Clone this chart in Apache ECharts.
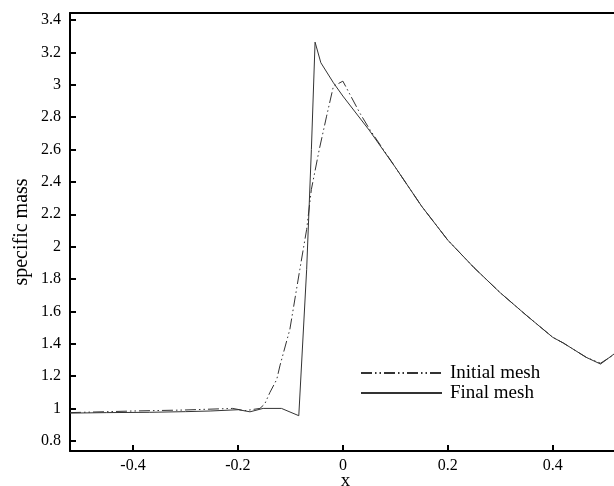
<!DOCTYPE html>
<html>
<head>
<meta charset="utf-8">
<script src="https://cdn.jsdelivr.net/npm/echarts@6/dist/echarts.min.js"></script>
<style>
  html, body { margin: 0; padding: 0; background: #fff; }
  #chart { width: 614px; height: 486px; }
</style>
</head>
<body>
<div id="chart"></div>
<script>
// final mesh (solid)
var finalX = [-0.52, -0.45, -0.368, -0.3, -0.253, -0.199, -0.177, -0.152, -0.117, -0.084, -0.069, -0.06, -0.053, -0.042, -0.018, 0, 0.05, 0.1, 0.15, 0.2, 0.25, 0.3, 0.35, 0.4, 0.42, 0.464, 0.491, 0.52];
var finalY = [0.972, 0.975, 0.977, 0.981, 0.985, 0.993, 0.98, 1.001, 1.001, 0.956, 1.86, 2.6, 3.263, 3.136, 3.012, 2.93, 2.72, 2.49, 2.25, 2.04, 1.87, 1.715, 1.575, 1.44, 1.405, 1.316, 1.275, 1.345];
// initial mesh (dash-dot-dot)
var initX = [-0.52, -0.4, -0.304, -0.21, -0.187, -0.158, -0.149, -0.139, -0.126, -0.12, -0.101, -0.082, -0.069, -0.06, -0.045, -0.031, -0.018, 0, 0.032, 0.05, 0.1, 0.15, 0.2, 0.25, 0.3, 0.35, 0.4, 0.42, 0.464, 0.491, 0.52];
var initY = [0.975, 0.985, 0.991, 1.001, 0.987, 1.001, 1.028, 1.1, 1.18, 1.264, 1.49, 1.86, 2.107, 2.354, 2.6, 2.806, 2.991, 3.022, 2.827, 2.73, 2.49, 2.25, 2.04, 1.87, 1.715, 1.575, 1.44, 1.405, 1.316, 1.28, 1.34];

var xTicks = [-0.4, -0.2, 0, 0.2, 0.4];
var yTicks = [0.8, 1, 1.2, 1.4, 1.6, 1.8, 2, 2.2, 2.4, 2.6, 2.8, 3, 3.2, 3.4];

function zip(xs, ys) { return xs.map(function (x, i) { return [x, ys[i]]; }); }

var myChart = echarts.init(document.getElementById('chart'));
var font = 'Liberation Serif';

var option = {
    animation: false,
    backgroundColor: '#fff',
    grid: { left: 70, top: 13, bottom: 35, right: -7, outerBoundsMode: 'none', containLabel: false },
    legend: {
        orient: 'vertical',
        left: 360,
        top: 363,
        padding: 0,
        itemWidth: 81,
        itemHeight: 10,
        itemGap: 0,
        itemStyle: { opacity: 0 },
        textStyle: { fontFamily: font, fontSize: 19, lineHeight: 20, color: '#000', padding: [0, 0, 0, 3] },
        data: ['Initial mesh', 'Final mesh']
    },
    xAxis: [{
        type: 'value',
        min: -0.52,
        max: 0.53,
        name: 'x',
        nameLocation: 'middle',
        nameGap: 21,
        nameMoveOverlap: false,
        nameTextStyle: { fontFamily: font, fontSize: 19, color: '#000' },
        axisLine: { onZero: false, lineStyle: { color: '#000', width: 2 } },
        axisTick: { inside: true, length: 6, customValues: xTicks, lineStyle: { color: '#000', width: 2 } },
        axisLabel: { customValues: xTicks, fontFamily: font, fontSize: 16, color: '#000', margin: 7 },
        splitLine: { show: false }
    }, {
        type: 'value',
        position: 'top',
        min: -0.52,
        max: 0.53,
        axisLine: { onZero: false, lineStyle: { color: '#000', width: 2 } },
        axisTick: { show: false },
        axisLabel: { show: false },
        splitLine: { show: false }
    }],
    yAxis: {
        type: 'value',
        min: 0.738,
        max: 3.443,
        name: 'specific mass',
        nameLocation: 'middle',
        nameRotate: 90,
        nameGap: 38,
        nameMoveOverlap: false,
        nameTextStyle: { fontFamily: font, fontSize: 20, color: '#000' },
        axisLine: { show: true, onZero: false, lineStyle: { color: '#000', width: 2 } },
        axisTick: { show: true, inside: true, length: 6, customValues: yTicks, lineStyle: { color: '#000', width: 2 } },
        axisLabel: { customValues: yTicks, fontFamily: font, fontSize: 16, color: '#000', margin: 9 },
        splitLine: { show: false }
    },
    series: [{
        name: 'Initial mesh',
        type: 'line',
        symbol: 'none',
        data: zip(initX, initY),
        lineStyle: { color: '#333', width: 1, type: [11, 3, 1.5, 3, 1.5, 3] },
        itemStyle: { color: '#333' }
    }, {
        name: 'Final mesh',
        type: 'line',
        symbol: 'none',
        data: zip(finalX, finalY),
        lineStyle: { color: '#333', width: 1 },
        itemStyle: { color: '#333' }
    }]
};

myChart.setOption(option);
</script>
</body>
</html>
